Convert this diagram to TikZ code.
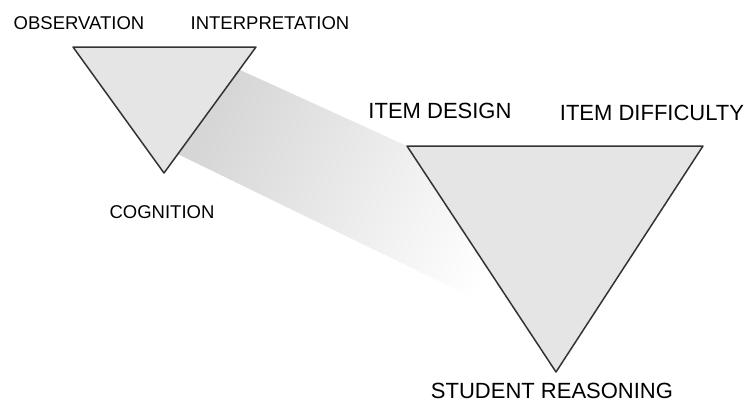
\documentclass[tikz,border=0pt]{standalone}
\usepackage{fontspec}
\setmainfont{Liberation Sans}
\usetikzlibrary{calc}

\tikzset{
  tri/.style={draw=black!80, line width=1.5pt, line join=round, fill=black!10},
  small label/.style={font=\fontsize{18.5}{20}\selectfont, inner sep=0pt},
  big label/.style={font=\fontsize{22}{24}\selectfont, inner sep=0pt}
}

\begin{document}
\begin{tikzpicture}[x=1pt,y=-1pt]

  \useasboundingbox (0,0) rectangle (748,402);

  % small triangle
  \coordinate (OL) at (73,47);
  \coordinate (OR) at (256,47);
  \coordinate (OB) at (164,173);

  % big triangle
  \coordinate (BL) at (407,146);
  \coordinate (BR) at (703,146);
  \coordinate (BB) at (556,372);

  % band between them
  \coordinate (U) at ($ (OR)!.18!(OB) $);
  \coordinate (V) at ($ (OR)!.85!(OB) $);
  \coordinate (W) at ($ (BL)!.78!(BB) $);

  \shade [top color=black!16, middle color=black!5, bottom color=white, shading angle=64]
    (U) -- (BL) -- (W) -- (V) -- cycle;

  \draw [tri] (OL) -- (OR) -- (OB) -- cycle;
  \draw [tri] (BL) -- (BR) -- (BB) -- cycle;

  \node (obs)  at (79,23)   [small label] {OBSERVATION};
  \node (int)  at (270,23)  [small label] {INTERPRETATION};
  \node (cog)  at (162,212) [small label] {COGNITION};

  \node (des)  at (440,111) [big label] {ITEM DESIGN};
  \node (dif)  at (652,113) [big label] {ITEM DIFFICULTY};
  \node (rea)  at (552,391) [big label] {STUDENT REASONING};

\end{tikzpicture}
\end{document}
